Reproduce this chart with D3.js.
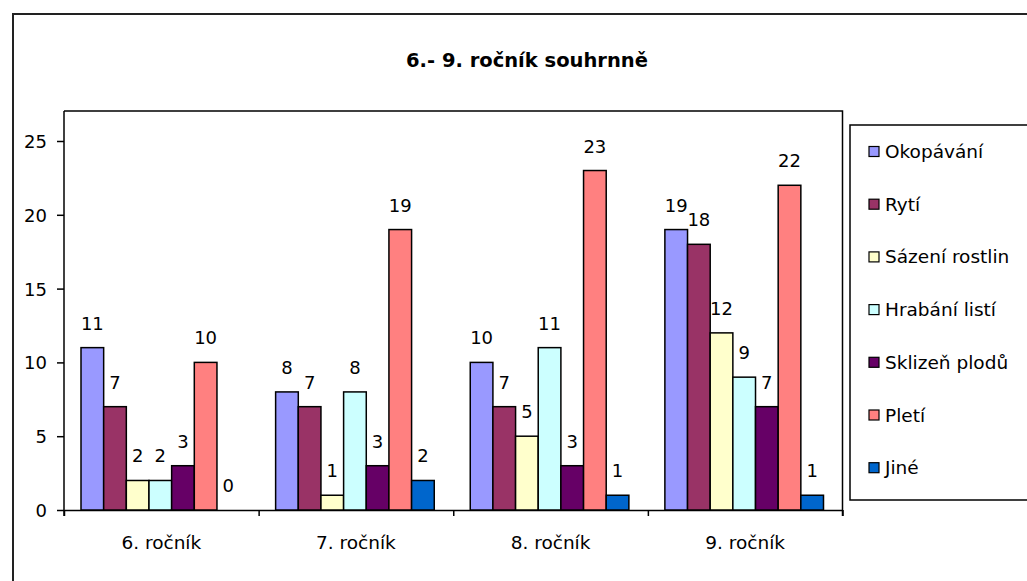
<!DOCTYPE html>
<html>
<head>
<meta charset="utf-8">
<script src="https://cdn.jsdelivr.net/npm/d3@7"></script>
<style>
  html, body { margin: 0; padding: 0; background: #fff; }
  svg { display: block; }
  text { font-family: "DejaVu Sans", sans-serif; fill: #000; }
</style>
</head>
<body>
<svg id="chart" width="1027" height="581"></svg>
<script>
const title = "6.- 9. ročník souhrnně";
const categories = ["6. ročník", "7. ročník", "8. ročník", "9. ročník"];
const seriesNames = ["Okopávání", "Rytí", "Sázení rostlin", "Hrabání listí", "Sklizeň plodů", "Pletí", "Jiné"];
const seriesColors = ["#9999FF", "#993366", "#FFFFCC", "#CCFFFF", "#660066", "#FF8080", "#0066CC"];
const okopavani = [11, 8, 10, 19];
const ryti = [7, 7, 7, 18];
const sazeni = [2, 1, 5, 12];
const hrabani = [2, 8, 11, 9];
const sklizen = [3, 3, 3, 7];
const pleti = [10, 19, 23, 22];
const jine = [0, 2, 1, 1];
const yTicks = [0, 5, 10, 15, 20, 25];

const seriesValues = [okopavani, ryti, sazeni, hrabani, sklizen, pleti, jine];

const svg = d3.select("#chart");

// outer chart frame (extends past right/bottom edges)
svg.append("rect").attr("x", 13).attr("y", 14).attr("width", 1200).attr("height", 800)
  .attr("fill", "none").attr("stroke", "#222").attr("stroke-width", 2);

// title
svg.append("text").attr("x", 527).attr("y", 67).attr("text-anchor", "middle")
  .style("font-weight", "bold").style("font-size", "19.5px").text(title);

const plot = { left: 64, right: 842.5, top: 111, bottom: 510 };

const x0 = d3.scaleBand().domain(categories).range([plot.left, plot.right]).padding(0);
const x1 = d3.scaleBand().domain(seriesNames).range([17, x0.bandwidth() - 19]).padding(0);
const y = d3.scaleLinear().domain([0, 25]).range([plot.bottom, 141]);

// plot area frame (top and right)
svg.append("path")
  .attr("d", `M${plot.left},${plot.top}H${plot.right}V${plot.bottom + 6}`)
  .attr("fill", "none").attr("stroke", "#000").attr("stroke-width", 1.5);

// y axis
const yAxis = d3.axisLeft(y).tickValues(yTicks).tickSize(7).tickSizeOuter(0).tickPadding(10);
const gy = svg.append("g").attr("transform", `translate(${plot.left},0)`).call(yAxis);
gy.select(".domain").remove();
gy.selectAll(".tick line").attr("stroke", "#000").attr("stroke-width", 1.5);
gy.selectAll(".tick text").style("font-size", "18px").attr("font-family", null).attr("dy", "0.36em");
svg.append("line").attr("x1", plot.left).attr("x2", plot.left)
  .attr("y1", plot.top).attr("y2", plot.bottom + 6).attr("stroke", "#000").attr("stroke-width", 1.5);

// x axis
const xEdge = d3.scaleLinear().domain([0, categories.length]).range([plot.left, plot.right]);
const gx = svg.append("g").attr("transform", `translate(0,${plot.bottom})`)
  .call(d3.axisBottom(xEdge).tickValues(d3.range(categories.length + 1)).tickSize(6).tickSizeOuter(0).tickFormat(""));
gx.select(".domain").attr("stroke", "#000").attr("stroke-width", 1.5);
gx.selectAll(".tick line").attr("stroke", "#000").attr("stroke-width", 1.5);
svg.append("g").selectAll("text").data(categories).join("text")
  .attr("x", d => x0(d) + x0.bandwidth() / 2).attr("y", 549)
  .attr("text-anchor", "middle").style("font-size", "18.5px").text(d => d);

// bars
const groups = svg.append("g").selectAll("g").data(categories).join("g")
  .attr("transform", d => `translate(${x0(d)},0)`);
const cells = groups.selectAll("g").data((c, ci) => seriesNames.map((s, si) => ({ s, si, v: seriesValues[si][ci] })))
  .join("g");
cells.filter(d => d.v > 0).append("rect")
  .attr("x", d => x1(d.s)).attr("width", x1.bandwidth())
  .attr("y", d => y(d.v)).attr("height", d => y(0) - y(d.v))
  .attr("fill", d => seriesColors[d.si]).attr("stroke", "#000").attr("stroke-width", 1.5);
cells.append("text")
  .attr("x", d => x1(d.s) + x1.bandwidth() / 2).attr("y", d => y(d.v) - 18)
  .attr("text-anchor", "middle").style("font-size", "18px").text(d => d.v);

// legend
svg.append("rect").attr("x", 850).attr("y", 125).attr("width", 400).attr("height", 375)
  .attr("fill", "none").attr("stroke", "#000").attr("stroke-width", 1.5);
const leg = svg.append("g").selectAll("g").data(seriesNames).join("g")
  .attr("transform", (d, i) => `translate(0,${151.5 + i * 52.7})`);
leg.append("rect").attr("x", 869).attr("y", -5).attr("width", 10).attr("height", 10)
  .attr("fill", (d, i) => seriesColors[i]).attr("stroke", "#000").attr("stroke-width", 1.2);
leg.append("text").attr("x", 885).attr("y", 6.5).style("font-size", "18.5px").text(d => d);
</script>
</body>
</html>
